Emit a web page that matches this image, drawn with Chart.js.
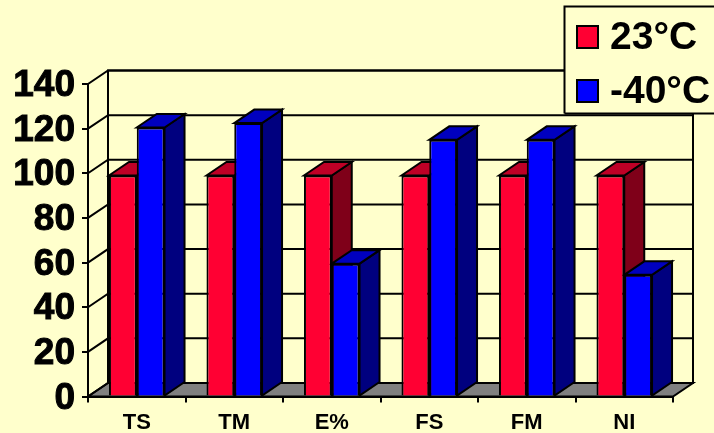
<!DOCTYPE html>
<html>
<head>
<meta charset="utf-8">
<script src="https://cdn.jsdelivr.net/npm/chart.js@4"></script>
<style>
  html, body { margin: 0; padding: 0; background: #FFFFCC; }
  canvas { display: block; }
</style>
</head>
<body>
<canvas id="tempChart" width="714" height="433"></canvas>
<script>
const categories = ['TS', 'TM', 'E%', 'FS', 'FM', 'NI'];
const warmValues = [99, 99, 99, 99, 99, 99];
const coldValues = [120.5, 122.5, 59.5, 115, 115, 54.5];
const yTicks = [0, 20, 40, 60, 80, 100, 120, 140];

// Depth of the fake 3D box, in pixels
const DEPTH_X = 20;
const DEPTH_Y = -13.5;

const shades = {
    '#FF0033': { top: '#BF0026', side: '#7F0019' },
    '#0000FF': { top: '#0000BF', side: '#00007F' }
};

function poly(ctx, pts, fill) {
    ctx.beginPath();
    pts.forEach((p, i) => i ? ctx.lineTo(p[0], p[1]) : ctx.moveTo(p[0], p[1]));
    ctx.closePath();
    if (fill) {
        ctx.fillStyle = fill;
        ctx.fill();
    }
    ctx.stroke();
}

// Back wall, floor and the top/side faces of the bars
const boxPlugin = {
    id: 'box3d',
    beforeDatasetsDraw(chart) {
        const { ctx, chartArea: a, scales: { y } } = chart;
        ctx.save();
        ctx.strokeStyle = '#000';
        ctx.lineWidth = 2;
        ctx.lineJoin = 'miter';

        // floor
        poly(ctx, [[a.left, a.bottom], [a.right, a.bottom],
            [a.right + DEPTH_X, a.bottom + DEPTH_Y], [a.left + DEPTH_X, a.bottom + DEPTH_Y]], '#808080');

        // walls and gridlines
        poly(ctx, [[a.left + DEPTH_X, a.top + DEPTH_Y], [a.right + DEPTH_X, a.top + DEPTH_Y],
            [a.right + DEPTH_X, a.bottom + DEPTH_Y], [a.left + DEPTH_X, a.bottom + DEPTH_Y]]);
        yTicks.forEach(v => {
            const py = y.getPixelForValue(v);
            ctx.beginPath();
            ctx.moveTo(a.left, py);
            ctx.lineTo(a.left + DEPTH_X, py + DEPTH_Y);
            if (v > 0) ctx.lineTo(a.right + DEPTH_X, py + DEPTH_Y);
            ctx.stroke();
        });

        // faces behind the fronts, red before blue so blue sits on top
        categories.forEach((c, i) => {
            chart.data.datasets.forEach((ds, d) => {
                const bar = chart.getDatasetMeta(d).data[i];
                const l = bar.x - bar.width / 2, r = bar.x + bar.width / 2;
                const t = bar.y, b = bar.base;
                const s = shades[ds.backgroundColor];
                poly(ctx, [[r, t], [r + DEPTH_X, t + DEPTH_Y], [r + DEPTH_X, b + DEPTH_Y], [r, b]], s.side);
                poly(ctx, [[l, t], [l + DEPTH_X, t + DEPTH_Y], [r + DEPTH_X, t + DEPTH_Y], [r, t]], s.top);
            });
        });
        ctx.restore();
    },
    afterDraw(chart) {
        const { ctx } = chart;
        ctx.save();
        // legend box runs off the right edge
        ctx.fillStyle = '#FFFFCC';
        ctx.fillRect(564.5, 6.5, 150, 107);
        ctx.strokeStyle = '#000';
        ctx.lineWidth = 2;
        ctx.beginPath();
        ctx.moveTo(564.5, 113.5);
        ctx.lineTo(564.5, 6.5);
        ctx.lineTo(714, 6.5);
        ctx.moveTo(564.5, 113.5);
        ctx.lineTo(714, 113.5);
        ctx.stroke();

        ctx.font = 'bold 39px "Liberation Sans"';
        ctx.textBaseline = 'middle';
        ctx.textAlign = 'left';
        chart.data.datasets.forEach((ds, d) => {
            const cy = 37 + d * 54;
            ctx.fillStyle = ds.backgroundColor;
            ctx.fillRect(577, cy - 11, 21, 22);
            ctx.strokeRect(577, cy - 11, 21, 22);
            ctx.fillStyle = '#000';
            ctx.fillText(ds.label, 610, cy + 1);
        });
        ctx.restore();
    }
};

new Chart(document.getElementById('tempChart'), {
    type: 'bar',
    data: {
        labels: categories,
        datasets: [
            { label: '23°C', data: warmValues, backgroundColor: '#FF0033' },
            { label: '-40°C', data: coldValues, backgroundColor: '#0000FF' }
        ]
    },
    options: {
        responsive: false,
        animation: false,
        layout: { padding: { top: 84, right: 41, bottom: 0, left: 0 } },
        datasets: {
            bar: {
                categoryPercentage: 0.57,
                barPercentage: 1,
                borderColor: '#000',
                borderWidth: 2
            }
        },
        scales: {
            x: {
                afterFit(s) { s.height = 36.5; },
                border: { color: '#000', width: 2 },
                grid: { display: true, drawOnChartArea: false, color: '#000', lineWidth: 2, tickLength: 6 },
                ticks: {
                    color: '#000',
                    maxRotation: 0,
                    padding: 7,
                    font: { family: 'Liberation Sans', size: 22, weight: 'bold' }
                }
            },
            y: {
                min: 0,
                max: 140,
                afterFit(s) { s.width = 88; },
                border: { color: '#000', width: 2 },
                grid: { drawOnChartArea: false, color: '#000', lineWidth: 2, tickLength: 6 },
                afterBuildTicks(s) { s.ticks = yTicks.map(v => ({ value: v })); },
                ticks: {
                    color: '#000',
                    padding: 7,
                    autoSkip: false,
                    labelOffset: 2,
                    textStrokeColor: '#000',
                    textStrokeWidth: 1,
                    font: { family: 'Liberation Sans', size: 37, weight: 'bold' }
                }
            }
        },
        plugins: {
            legend: { display: false },
            tooltip: { enabled: false }
        }
    },
    plugins: [boxPlugin]
});
</script>
</body>
</html>
